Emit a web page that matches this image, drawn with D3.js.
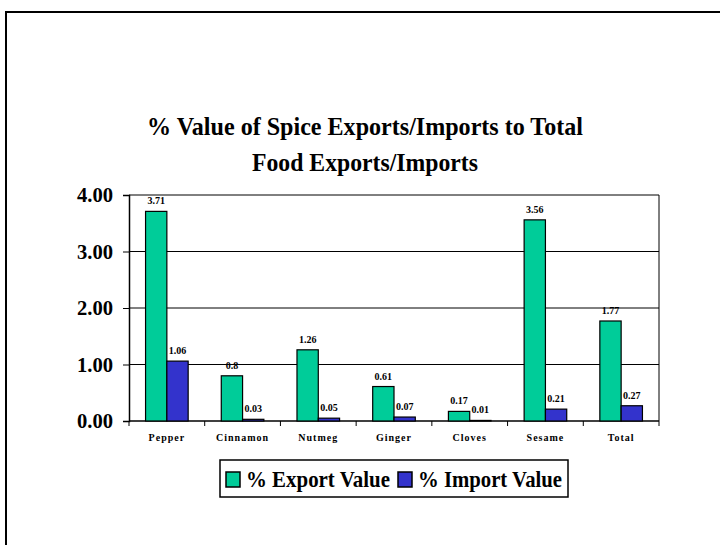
<!DOCTYPE html>
<meta charset="utf-8">
<style>
body { margin: 0; background: #fff; }
svg text { font-family: "Liberation Serif", "Times New Roman", serif; font-weight: bold; fill: #000; }
</style>
<body>
<svg id="chart" width="720" height="545"></svg>
<script src="https://d3js.org/d3.v7.min.js"></script>
<script>
var categories = ["Pepper", "Cinnamon", "Nutmeg", "Ginger", "Cloves", "Sesame", "Total"];
var exportValues = [3.71, 0.8, 1.26, 0.61, 0.17, 3.56, 1.77];
var importValues = [1.06, 0.03, 0.05, 0.07, 0.01, 0.21, 0.27];
var exportLabels = ["3.71", "0.8", "1.26", "0.61", "0.17", "3.56", "1.77"];
var importLabels = ["1.06", "0.03", "0.05", "0.07", "0.01", "0.21", "0.27"];
var yTicks = [0, 1, 2, 3, 4];
var seriesNames = ["% Export Value", "% Import Value"];
var colors = ["#00cc99", "#3333cc"];

var svg = d3.select("#chart");

// outer frame (runs off the right and bottom edge)
svg.append("rect")
  .attr("x", 6).attr("y", 12).attr("width", 740).attr("height", 560)
  .attr("fill", "none").attr("stroke", "#000").attr("stroke-width", 2);

// title
var titleLines = ["% Value of Spice Exports/Imports to Total", "Food Exports/Imports"];
var titleWidths = [436, 226];
svg.selectAll(".title")
  .data(titleLines)
  .enter().append("text")
    .attr("class", "title")
    .attr("x", 365)
    .attr("y", function(d, i) { return 135 + i * 36; })
    .attr("text-anchor", "middle")
    .attr("font-size", 25)
    .attr("textLength", function(d, i) { return titleWidths[i]; })
    .attr("lengthAdjust", "spacingAndGlyphs")
    .text(function(d) { return d; });

var plotLeft = 129, plotRight = 659, plotTop = 195, plotBottom = 421;

var x = d3.scaleBand().domain(categories).range([plotLeft, plotRight]);
var y = d3.scaleLinear().domain([0, 4]).range([plotBottom, plotTop]);
var barW = 21.3;

// grid lines
svg.selectAll(".grid")
  .data(yTicks.slice(1))
  .enter().append("line")
    .attr("x1", plotLeft).attr("x2", plotRight)
    .attr("y1", function(d) { return y(d); })
    .attr("y2", function(d) { return y(d); })
    .attr("stroke", "#000").attr("stroke-width", 1);

// right edge of plot
svg.append("line")
  .attr("x1", plotRight).attr("x2", plotRight).attr("y1", plotTop).attr("y2", plotBottom)
  .attr("stroke", "#000").attr("stroke-width", 1);

// y axis
var yAxis = svg.append("g")
  .attr("transform", "translate(" + plotLeft + ",0)")
  .call(d3.axisLeft(y).tickValues(yTicks).tickSize(6).tickPadding(10)
    .tickFormat(d3.format(".2f")));
yAxis.select(".domain").attr("stroke", "#000").attr("stroke-width", 1.5);
yAxis.selectAll(".tick line").attr("stroke", "#000");
yAxis.selectAll("text")
  .attr("font-size", 21)
  .attr("font-family", "Liberation Serif")
  .attr("font-weight", "bold")
  .attr("textLength", 36)
  .attr("lengthAdjust", "spacingAndGlyphs");

// x axis line and boundary ticks
svg.append("line")
  .attr("x1", plotLeft).attr("x2", plotRight).attr("y1", plotBottom).attr("y2", plotBottom)
  .attr("stroke", "#000").attr("stroke-width", 1.5);
var bounds = categories.map(function(c) { return x(c); }).concat([plotRight]);
svg.selectAll(".xtick")
  .data(bounds)
  .enter().append("line")
    .attr("x1", function(d) { return d; }).attr("x2", function(d) { return d; })
    .attr("y1", plotBottom).attr("y2", plotBottom + 5)
    .attr("stroke", "#000");

svg.selectAll(".xlabel")
  .data(categories)
  .enter().append("text")
    .attr("x", function(d) { return x(d) + x.bandwidth() / 2; })
    .attr("y", 441)
    .attr("text-anchor", "middle")
    .attr("font-size", 10)
    .attr("letter-spacing", 1)
    .text(function(d) { return d; });

// bars
var series = [exportValues, importValues];
var labels = [exportLabels, importLabels];
series.forEach(function(vals, s) {
  var offset = x.bandwidth() / 2 - barW + s * barW;
  svg.selectAll(".bar" + s)
    .data(vals)
    .enter().append("rect")
      .attr("x", function(d, i) { return x(categories[i]) + offset; })
      .attr("y", function(d) { return y(d); })
      .attr("width", barW)
      .attr("height", function(d) { return plotBottom - y(d); })
      .attr("fill", colors[s])
      .attr("stroke", "#000").attr("stroke-width", 1.2);
  svg.selectAll(".lab" + s)
    .data(vals)
    .enter().append("text")
      .attr("x", function(d, i) { return x(categories[i]) + offset + barW / 2; })
      .attr("y", function(d) { return y(d) - 7; })
      .attr("text-anchor", "middle")
      .attr("font-size", 10)
      .text(function(d, i) { return labels[s][i]; });
});

// legend
svg.append("rect")
  .attr("x", 220).attr("y", 460).attr("width", 348).attr("height", 37)
  .attr("fill", "#fff").attr("stroke", "#000").attr("stroke-width", 1.5);
var legX = [226, 398];
var legTextW = [144, 144];
seriesNames.forEach(function(name, i) {
  svg.append("rect")
    .attr("x", legX[i]).attr("y", 472).attr("width", 14).attr("height", 15)
    .attr("fill", colors[i]).attr("stroke", "#000").attr("stroke-width", 1.5);
  svg.append("text")
    .attr("x", legX[i] + 20).attr("y", 487)
    .attr("font-size", 23)
    .attr("textLength", legTextW[i])
    .attr("lengthAdjust", "spacingAndGlyphs")
    .text(name);
});
</script>
</body>
